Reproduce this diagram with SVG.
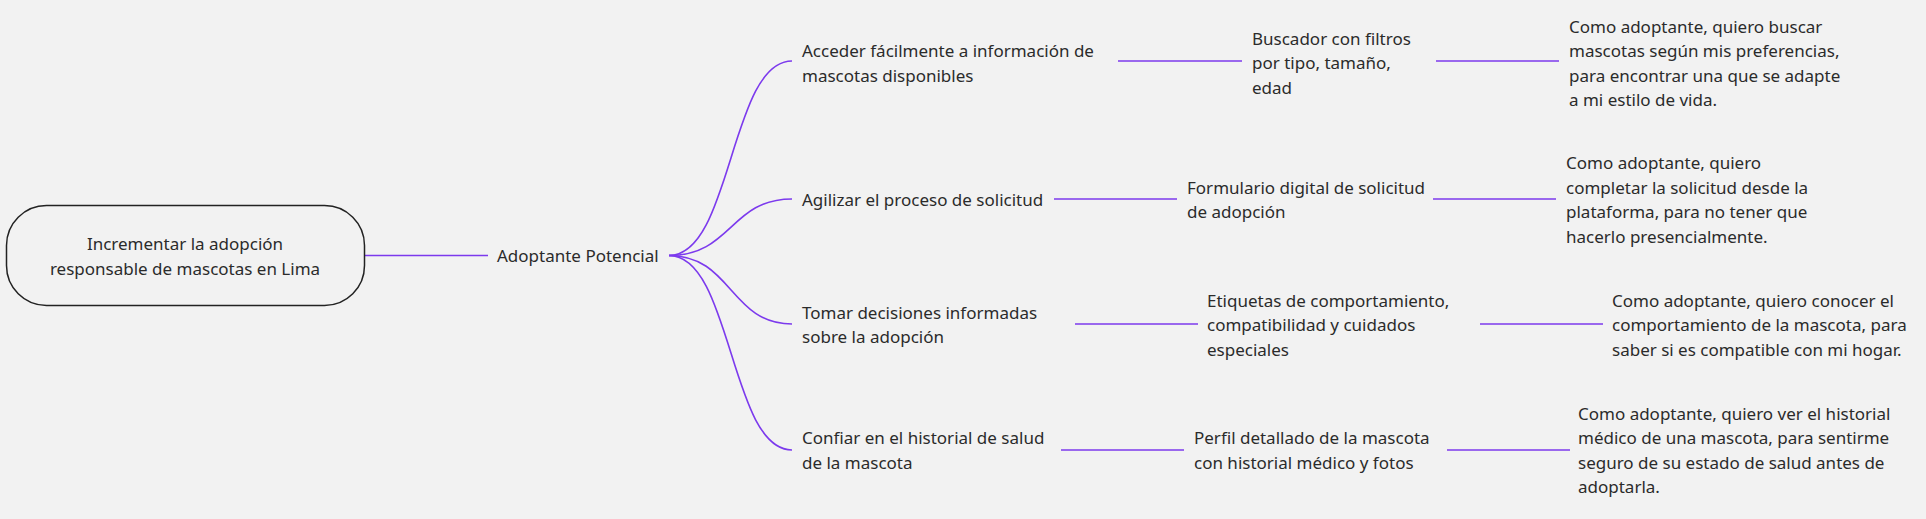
<svg xmlns="http://www.w3.org/2000/svg" width="1926" height="519" viewBox="0 0 1926 519">
<style>
text{font-family:"Noto Sans","Open Sans","Liberation Sans",sans-serif;font-size:17px;fill:#2b2b2b;dominant-baseline:central}
.c{fill:none;stroke:#7c3aed;stroke-width:1.6}
.mid{text-anchor:middle}
</style>
<rect width="1926" height="519" fill="#f2f2f2"/>
<g id="connectors">
<path class="c" d="M365 255.5H488"/>
<path class="c" d="M669 255.5C732 255.5 730 61 792 61"/>
<path class="c" d="M669 255.5C732 255.5 730 199 792 199"/>
<path class="c" d="M669 255.5C732 255.5 730 324 792 324"/>
<path class="c" d="M669 255.5C732 255.5 730 450 792 450"/>
<path class="c" d="M1118 61H1242"/>
<path class="c" d="M1054 199H1177"/>
<path class="c" d="M1075 324H1198"/>
<path class="c" d="M1061 450H1184"/>
<path class="c" d="M1436 61H1559"/>
<path class="c" d="M1433 199H1556"/>
<path class="c" d="M1480 324H1603"/>
<path class="c" d="M1447 450H1570"/>
</g>
<g id="root">
<rect x="6.5" y="205.5" width="358" height="100" rx="40" fill="#f2f2f2" stroke="#222" stroke-width="1.5"/>
<text class="mid" x="185" y="243">Incrementar la adopción</text>
<text class="mid" x="185" y="268">responsable de mascotas en Lima</text>
</g>
<g id="adoptante"><text x="497" y="255.5">Adoptante Potencial</text></g>
<g id="n1"><text x="802" y="50">Acceder fácilmente a información de</text><text x="802" y="75">mascotas disponibles</text></g>
<g id="n2"><text x="802" y="199">Agilizar el proceso de solicitud</text></g>
<g id="n3"><text x="802" y="312">Tomar decisiones informadas</text><text x="802" y="336.5">sobre la adopción</text></g>
<g id="n4"><text x="802" y="437">Confiar en el historial de salud</text><text x="802" y="462">de la mascota</text></g>
<g id="f1"><text x="1252" y="38">Buscador con filtros</text><text x="1252" y="62.5">por tipo, tamaño,</text><text x="1252" y="87">edad</text></g>
<g id="f2"><text x="1187" y="187">Formulario digital de solicitud</text><text x="1187" y="211">de adopción</text></g>
<g id="f3"><text x="1207" y="300">Etiquetas de comportamiento,</text><text x="1207" y="324">compatibilidad y cuidados</text><text x="1207" y="349">especiales</text></g>
<g id="f4"><text x="1194" y="437">Perfil detallado de la mascota</text><text x="1194" y="462">con historial médico y fotos</text></g>
<g id="u1"><text x="1569" y="26">Como adoptante, quiero buscar</text><text x="1569" y="50">mascotas según mis preferencias,</text><text x="1569" y="75">para encontrar una que se adapte</text><text x="1569" y="99.5">a mi estilo de vida.</text></g>
<g id="u2"><text x="1566" y="162">Como adoptante, quiero</text><text x="1566" y="187">completar la solicitud desde la</text><text x="1566" y="211">plataforma, para no tener que</text><text x="1566" y="236">hacerlo presencialmente.</text></g>
<g id="u3"><text x="1612" y="300">Como adoptante, quiero conocer el</text><text x="1612" y="324">comportamiento de la mascota, para</text><text x="1612" y="349">saber si es compatible con mi hogar.</text></g>
<g id="u4"><text x="1578" y="413">Como adoptante, quiero ver el historial</text><text x="1578" y="437">médico de una mascota, para sentirme</text><text x="1578" y="462">seguro de su estado de salud antes de</text><text x="1578" y="486">adoptarla.</text></g>
</svg>
